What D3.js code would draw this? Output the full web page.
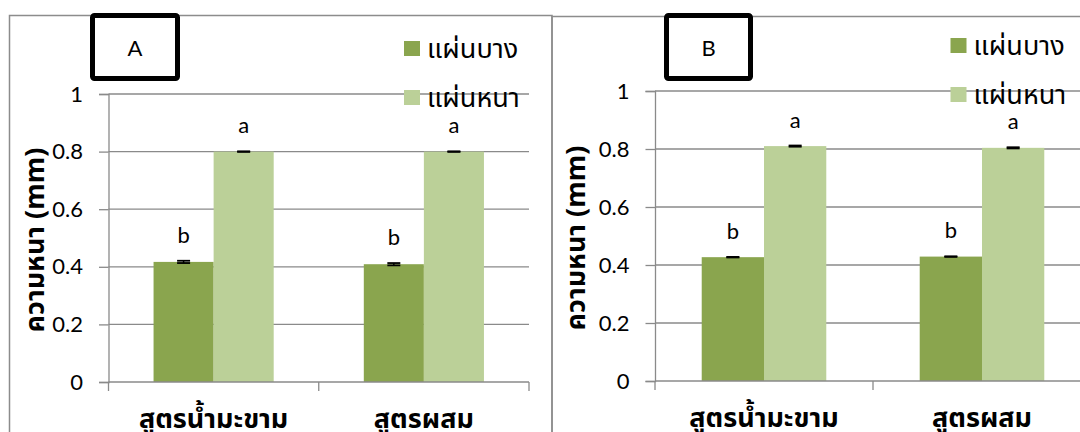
<!DOCTYPE html>
<html>
<head>
<meta charset="utf-8">
<script src="https://cdn.jsdelivr.net/npm/d3@7"></script>
<style>
  body { margin: 0; background: #fff; }
  svg { display: block; }
</style>
</head>
<body>
<script>
// data
const categories = ["สูตรน้ำมะขาม", "สูตรผสม"];
const seriesNames = ["แผ่นบาง", "แผ่นหนา"];
const seriesColors = ["#8aa54e", "#bbd098"];
const yTicks = [0, 0.2, 0.4, 0.6, 0.8, 1];

const thinA = [0.417, 0.409];
const thickA = [0.800, 0.800];
const thinErrA = [0.004, 0.004];
const thickErrA = [0.001, 0.001];

const thinB = [0.427, 0.429];
const thickB = [0.810, 0.804];
const thinErrB = [0.001, 0.001];
const thickErrB = [0.002, 0.002];

const lettersThin = ["b", "b"];
const lettersThick = ["a", "a"];

const width = 1080, height = 432;
const latin = "Lato, 'Open Sans', sans-serif";
const thai = "'Noto Sans Thai', Tahoma, 'DejaVu Sans', sans-serif";

const svg = d3.select("body").append("svg")
  .attr("width", width)
  .attr("height", height);

// panel borders
svg.append("rect")
  .attr("x", 9.5).attr("y", 15.5)
  .attr("width", 542.5).attr("height", 430)
  .attr("fill", "none").attr("stroke", "#8c8c8c").attr("stroke-width", 1.5);
svg.append("path")
  .attr("d", "M552,440 V16.5 H1085")
  .attr("fill", "none").attr("stroke", "#8c8c8c").attr("stroke-width", 1.5);

const panels = [
  { label: "A", thin: thinA, thick: thickA, thinErr: thinErrA, thickErr: thickErrA,
    x0: 108.5, x1: 529, y0: 382, y1: 94, box: [90, 13, 180, 81], titleX: 35,
    legX: 404, legY: [41, 90] },
  { label: "B", thin: thinB, thick: thickB, thinErr: thinErrB, thickErr: thickErrB,
    x0: 655, x1: 1091, y0: 381, y1: 91, box: [664, 13, 753, 81], titleX: 576,
    legX: 950.5, legY: [38, 87] }
];

panels.forEach(drawPanel);

function drawPanel(p) {
  const g = svg.append("g");

  const x = d3.scaleBand().domain(categories).range([p.x0, p.x1]).padding(0);
  const xs = d3.scaleBand().domain(seriesNames).range([0, x.bandwidth()])
    .paddingInner(0).paddingOuter(0.75);
  const y = d3.scaleLinear().domain([0, 1]).range([p.y0, p.y1]);

  // gridlines
  g.selectAll("line.grid")
    .data(yTicks.filter(d => d > 0))
    .enter().append("line")
    .attr("class", "grid")
    .attr("x1", p.x0).attr("x2", p.x1)
    .attr("y1", d => y(d)).attr("y2", d => y(d))
    .attr("stroke", "#8a8a8a").attr("stroke-width", 1.3);

  // y axis
  const yAxis = g.append("g")
    .attr("transform", `translate(${p.x0},0)`)
    .call(d3.axisLeft(y).tickValues(yTicks).tickSize(9.5).tickPadding(16)
      .tickFormat(d3.format("~g")));
  yAxis.attr("font-size", null).attr("font-family", null);
  yAxis.select(".domain").attr("stroke", "#8a8a8a").attr("stroke-width", 1.3);
  yAxis.selectAll(".tick line").attr("stroke", "#8a8a8a").attr("stroke-width", 1.3);
  yAxis.selectAll(".tick text")
    .style("font-family", latin).style("font-size", "22px").attr("fill", "#000");

  // bars
  const rows = [];
  categories.forEach((c, i) => {
    rows.push({ cat: c, s: seriesNames[0], v: p.thin[i], e: p.thinErr[i], t: lettersThin[i], col: seriesColors[0] });
    rows.push({ cat: c, s: seriesNames[1], v: p.thick[i], e: p.thickErr[i], t: lettersThick[i], col: seriesColors[1] });
  });

  g.selectAll("rect.bar")
    .data(rows)
    .enter().append("rect")
    .attr("class", "bar")
    .attr("x", d => x(d.cat) + xs(d.s))
    .attr("y", d => y(d.v))
    .attr("width", xs.bandwidth())
    .attr("height", d => y(0) - y(d.v))
    .attr("fill", d => d.col);

  // error bars
  const cx = d => x(d.cat) + xs(d.s) + xs.bandwidth() / 2;
  const eb = g.selectAll("g.err").data(rows).enter().append("g").attr("class", "err");
  eb.append("line")
    .attr("x1", cx).attr("x2", cx)
    .attr("y1", d => y(d.v + d.e)).attr("y2", d => y(d.v - d.e))
    .attr("stroke", "#000").attr("stroke-width", 1.5);
  [1, -1].forEach(sgn => {
    eb.append("line")
      .attr("x1", d => cx(d) - 6.5).attr("x2", d => cx(d) + 6.5)
      .attr("y1", d => y(d.v + sgn * d.e)).attr("y2", d => y(d.v + sgn * d.e))
      .attr("stroke", "#000").attr("stroke-width", 1.8);
  });

  // significance letters
  g.selectAll("text.sig")
    .data(rows)
    .enter().append("text")
    .attr("class", "sig")
    .attr("x", cx)
    .attr("y", d => y(d.v + d.e) - 18)
    .attr("text-anchor", "middle")
    .attr("font-family", latin).attr("font-size", 22)
    .text(d => d.t);

  // x axis
  g.append("line")
    .attr("x1", p.x0).attr("x2", p.x1)
    .attr("y1", p.y0).attr("y2", p.y0)
    .attr("stroke", "#8a8a8a").attr("stroke-width", 1.3);
  g.selectAll("line.xtick")
    .data([p.x0, x(categories[1]), p.x1])
    .enter().append("line")
    .attr("class", "xtick")
    .attr("x1", d => d).attr("x2", d => d)
    .attr("y1", p.y0).attr("y2", p.y0 + 9)
    .attr("stroke", "#8a8a8a").attr("stroke-width", 1.3);
  g.selectAll("text.xlab")
    .data(categories)
    .enter().append("text")
    .attr("class", "xlab")
    .attr("x", d => x(d) + x.bandwidth() / 2)
    .attr("y", p.y0 + 46)
    .attr("text-anchor", "middle")
    .attr("font-family", thai).attr("font-size", 27).attr("font-weight", "bold")
    .text(d => d);

  // y title
  g.append("text")
    .attr("transform", `translate(${p.titleX},${(p.y0 + p.y1) / 2 + 2}) rotate(-90)`)
    .attr("text-anchor", "middle")
    .attr("dy", "0.35em")
    .attr("font-family", thai).attr("font-size", 27).attr("font-weight", "bold")
    .text("ความหนา (mm)");

  // panel label box
  const b = p.box;
  g.append("rect")
    .attr("x", b[0] + 2.5).attr("y", b[1] + 2.5)
    .attr("width", b[2] - b[0] - 5).attr("height", b[3] - b[1] - 5)
    .attr("rx", 2)
    .attr("fill", "#fff").attr("stroke", "#000").attr("stroke-width", 5);
  g.append("text")
    .attr("x", (b[0] + b[2]) / 2)
    .attr("y", b[1] + 35)
    .attr("text-anchor", "middle")
    .attr("dy", "0.35em")
    .attr("font-family", latin).attr("font-size", 22)
    .text(p.label);

  // legend
  seriesNames.forEach((s, i) => {
    g.append("rect")
      .attr("x", p.legX).attr("y", p.legY[i])
      .attr("width", 16).attr("height", 15)
      .attr("fill", seriesColors[i]);
    g.append("text")
      .attr("x", p.legX + 23).attr("y", p.legY[i] + 17)
      .attr("font-family", thai).attr("font-size", 27)
      .text(s);
  });
}
</script>
</body>
</html>
